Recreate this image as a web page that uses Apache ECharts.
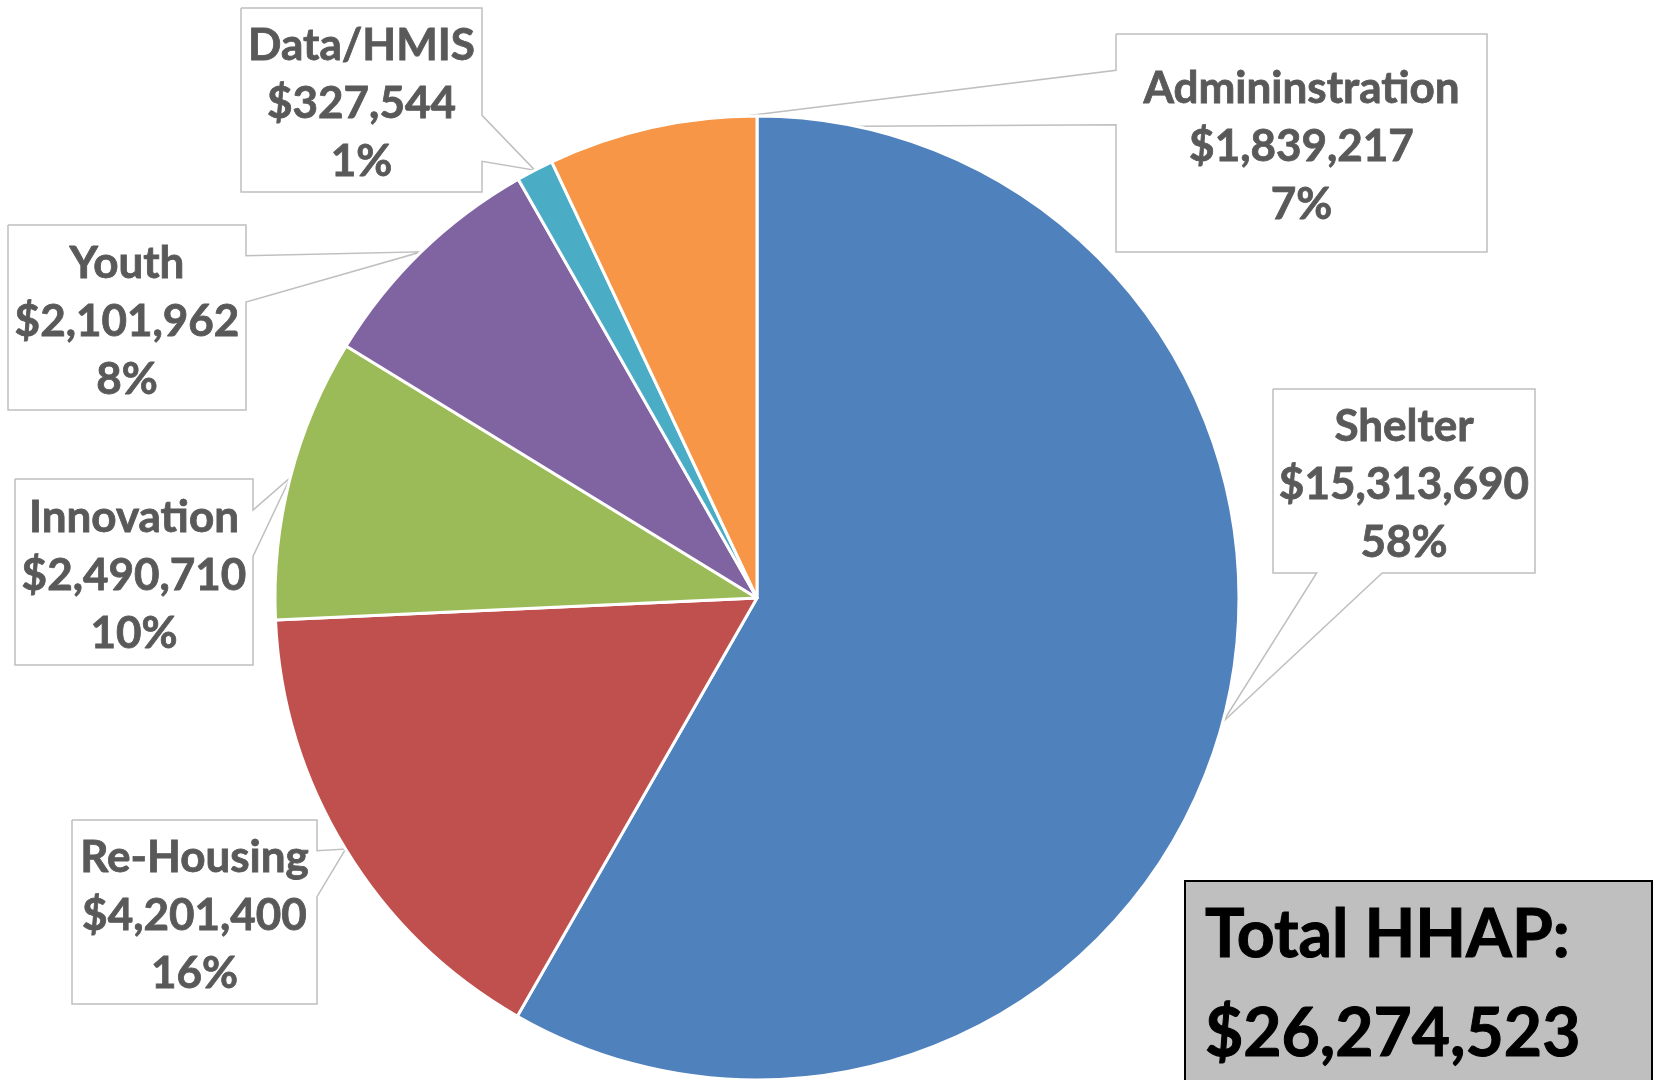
<!DOCTYPE html>
<html>
<head>
<meta charset="utf-8">
<title>HHAP Budget</title>
<script src="https://cdn.jsdelivr.net/npm/echarts@6/dist/echarts.min.js"></script>
<style>
  html, body { margin: 0; padding: 0; background: #fff; }
  #chart { width: 1656px; height: 1080px; }
</style>
</head>
<body>
<div id="chart"></div>
<script>
// 分类与金额
const categories = ['Shelter', 'Re-Housing', 'Innovation', 'Youth', 'Data/HMIS', 'Admininstration']
const amounts = [15313690, 4201400, 2490710, 2101962, 327544, 1839217]
const colors = ['#4f81bd', '#c0504d', '#9bbb59', '#8064a2', '#4bacc6', '#f79646']

// callout 框位置 [x, y, w, h]
const boxes = [
  [1273, 389, 262, 184],
  [72, 820, 245, 184],
  [15, 479, 238, 186],
  [8, 225, 238, 185],
  [241, 8, 241, 184],
  [1116, 34, 371, 218],
]

const fmt = (n) => '$' + n.toLocaleString('en-US')
const total = amounts.reduce((a, b) => a + b, 0)

// Excel 风格 callout 外框 + 指向扇区的尖角
const calloutOutline = (tip, box) => {
  const [bx, by, bw, bh] = box
  const [tx, ty] = tip
  const ox = tx < bx ? bx - tx : Math.max(0, tx - bx - bw)
  const oy = ty < by ? by - ty : Math.max(0, ty - by - bh)
  let side
  if (ox >= oy) side = tx < bx ? 'left' : 'right'
  else side = ty < by ? 'top' : 'bottom'
  const fy = ty < by + bh / 2 ? [1 / 6, 5 / 12] : [7 / 12, 5 / 6]
  const fx = tx < bx + bw / 2 ? [1 / 6, 5 / 12] : [7 / 12, 5 / 6]
  const tl = [bx, by]
  const tr = [bx + bw, by]
  const br = [bx + bw, by + bh]
  const bl = [bx, by + bh]
  const pts = [tl]
  if (side === 'top') pts.push([bx + bw * fx[0], by], [tx, ty], [bx + bw * fx[1], by])
  pts.push(tr)
  if (side === 'right') pts.push([bx + bw, by + bh * fy[0]], [tx, ty], [bx + bw, by + bh * fy[1]])
  pts.push(br)
  if (side === 'bottom') pts.push([bx + bw * fx[1], by + bh], [tx, ty], [bx + bw * fx[0], by + bh])
  pts.push(bl)
  if (side === 'left') pts.push([bx, by + bh * fy[1]], [tx, ty], [bx, by + bh * fy[0]])
  pts.push(tl)
  return pts
}

const chart = echarts.init(document.getElementById('chart'))

const options = {
  animation: false,
  backgroundColor: '#fff',
  series: [
    {
      type: 'pie',
      center: [757, 598],
      radius: 482,
      startAngle: 90,
      clockwise: true,
      percentPrecision: 0,
      itemStyle: {
        borderColor: '#fff',
        borderWidth: 3,
      },
      label: {
        show: true,
        position: 'outside',
        color: '#595959',
        fontFamily: 'Lato',
        fontWeight: 'bold',
        fontSize: 44,
        lineHeight: 58,
        align: 'center',
        textBorderColor: '#595959',
        textBorderWidth: 0.8,
        formatter: (p) => `${p.name}\n${fmt(p.value)}\n${p.percent}%`,
      },
      labelLine: {
        show: true,
        length: 10,
        length2: 10,
        lineStyle: {
          color: '#bfbfbf',
          width: 1.5,
        },
      },
      labelLayout: (params) => {
        const box = boxes[params.dataIndex]
        const res = {
          x: box[0] + box[2] / 2,
          y: box[1] + box[3] / 2 + 4,
          align: 'center',
          verticalAlign: 'middle',
        }
        if (params.labelLinePoints) {
          res.labelLinePoints = calloutOutline(params.labelLinePoints[0], box)
        }
        return res
      },
      data: categories.map((name, i) => ({
        name,
        value: amounts[i],
        itemStyle: { color: colors[i] },
      })),
    },
  ],
  graphic: [
    {
      type: 'rect',
      shape: { x: 1185, y: 881, width: 467, height: 215 },
      style: { fill: '#bfbfbf', stroke: '#000', lineWidth: 2 },
    },
    {
      type: 'text',
      x: 1205,
      y: 886,
      style: {
        text: `Total HHAP:\n${fmt(total)}`,
        fill: '#000',
        stroke: '#000',
        lineWidth: 1,
        fontFamily: 'Lato',
        fontWeight: 'bold',
        fontSize: 66,
        lineHeight: 99,
        verticalAlign: 'top',
      },
    },
  ],
}

chart.setOption(options)
</script>
</body>
</html>
